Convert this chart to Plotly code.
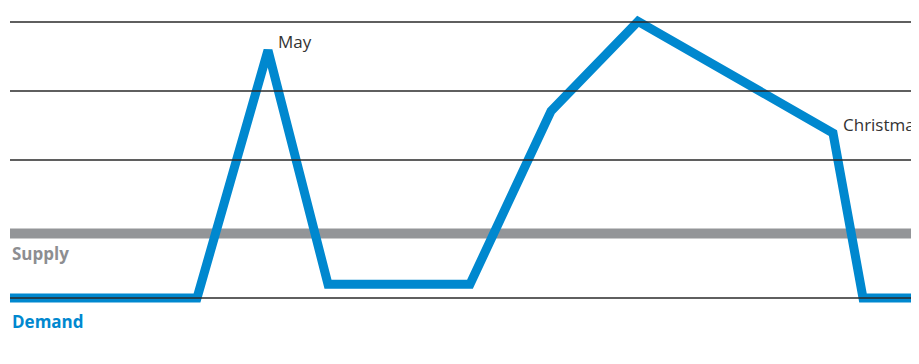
import plotly.graph_objects as go

# ---- data ----
demand_x = [0, 18.7, 25.8, 31.8, 46.0, 54.1, 62.8, 82.3, 85.3, 92.0]
demand_y = [0, 0, 3.59, 0.2, 0.2, 2.71, 4.01, 2.39, 0, 0]
supply_x = [0, 92.0]
supply_y = [0.935, 0.935]
grid_levels = [0, 2, 3, 4]
labels = {"May": (25.8, 3.59), "Christmas": (82.3, 2.39)}

BLUE = "#0088cf"
GRAY = "#939598"
GRID = "#2a2a2a"
FONT = "Open Sans"

fig = go.Figure()
fig.add_trace(go.Scatter(x=supply_x, y=supply_y, mode="lines",
                         line=dict(color=GRAY, width=10), hoverinfo="skip"))
fig.add_trace(go.Scatter(x=demand_x, y=demand_y, mode="lines",
                         line=dict(color=BLUE, width=9), hoverinfo="skip"))

for g in grid_levels:
    fig.add_shape(type="line", xref="paper", x0=0, x1=1, yref="y", y0=g, y1=g,
                  line=dict(color=GRID, width=1.6), layer="above")

for name, (lx, ly) in labels.items():
    fig.add_annotation(x=lx, y=ly, text=name, showarrow=False, xanchor="left",
                       yanchor="middle", xshift=8, yshift=9,
                       font=dict(family=FONT, size=17, color="#333333"))

fig.add_annotation(xref="paper", x=0, y=supply_y[0], text="<b>Supply</b>",
                   showarrow=False, xanchor="left", yanchor="middle",
                   yshift=-20, font=dict(family=FONT, size=17, color="#8d8e91"))
fig.add_annotation(xref="paper", x=0, y=0, text="<b>Demand</b>",
                   showarrow=False, xanchor="left", yanchor="middle",
                   yshift=-23, font=dict(family=FONT, size=17, color=BLUE))

fig.update_layout(
    width=919, height=364,
    margin=dict(l=2, r=0, t=0, b=0),
    paper_bgcolor="white", plot_bgcolor="white",
    showlegend=False,
    xaxis=dict(range=[0, 91.7], visible=False, showgrid=False, zeroline=False),
    yaxis=dict(range=[-1.072, 4.203], visible=False, showgrid=False, zeroline=False),
)

fig.write_html("out.html")
